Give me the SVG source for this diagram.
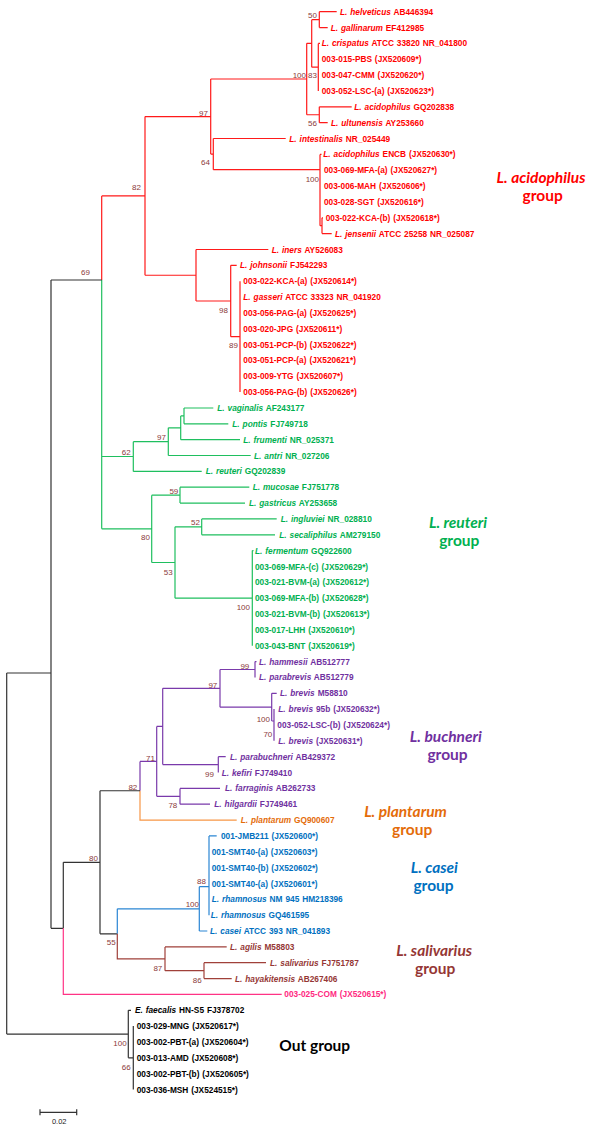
<svg xmlns="http://www.w3.org/2000/svg" width="600" height="1130" viewBox="0 0 600 1130">
<style>
.t{font-family:"Liberation Sans",Arial,sans-serif;font-size:8.3px;font-weight:bold;word-spacing:0.6px}
.i{font-style:italic}
.b{font-family:"Liberation Sans",Arial,sans-serif;font-size:8px;fill:#8b3a3a;text-anchor:end}
.g{font-family:Lato,"Open Sans",sans-serif;font-size:15.5px;font-weight:bold;text-anchor:middle}
.ln{fill:none;stroke-width:1.2}
.red{fill:#ff0000}.grn{fill:#00b050}.pur{fill:#7030a0}.org{fill:#e46c0a}.blu{fill:#0070c0}.brn{fill:#953735}.pnk{fill:#ff2a7f}.blk{fill:#000}
</style>
<rect width="600" height="1130" fill="#fff"/>
<g id="connectors">
<path class="ln" stroke="#ff1a1a" d="M319.3 11.7V27.6M319.3 11.7H336.7M319.3 27.6H327.7M311.7 19.65V67.2M311.7 19.65H319.3M311.7 67.2H318.3M318.3 43.4V91M318.3 43.4H320M319.3 106.8V122.7M319.3 106.8H351.7M319.3 122.7H327.7M306.7 43.3V114.75M306.7 43.3H311.7M306.7 114.75H319.3M210.7 79V154.1M210.7 79H306.7M210.7 154.1H213.3M213.3 138.5V169.7M213.3 138.5H285.7M213.3 169.7H320M320 154.4V225.7M320 154.4H321.5M320 225.7H322M322 217.8V233.6M322 233.6H331.7M322 217.8H323M145 116.55V275.25M145 116.55H210.7M145 275.25H196M196 249.5V301M196 249.5H268.3M196 301H230.7M230.7 265.3V336.65M230.7 265.3H236.7M230.7 336.65H240M240 281.2V392.1M101.7 195.9V280M101.7 195.9H145"/>
<path class="ln" stroke="#1fbf5f" d="M101.7 280V528.8M101.7 456.5H133.3M101.7 528.8H151.7M133.3 441.65V471.4M133.3 441.65H168.3M133.3 471.4H201.7M168.3 427.8V455.5M168.3 427.8H180.7M168.3 455.5H250.7M180.7 415.9V439.7M180.7 415.9H184M180.7 439.7H240M184 408V423.8M184 408H213.3M184 423.8H228.3M151.7 495.15V562.5M151.7 495.15H180M151.7 562.5H175M180 487.2V503.1M180 487.2H249.3M180 503.1H245M175 526.85V598.15M175 526.85H201.7M175 598.15H252.3M201.7 518.9V534.8M201.7 518.9H276.7M201.7 534.8H275M252.3 550.6V645.7M252.3 550.6H253.5"/>
<path class="ln" stroke="#7a3aab" d="M140 761.4V790.75M156.7 726.45V796.3M140 761.4H156.7M156.7 726.45H162.7M156.7 796.3H180M162.7 688.3V764.6M162.7 688.3H220M162.7 764.6H218.3M220 669.5V707.15M220 669.5H255M220 707.15H271.7M255 661.6V677.4M255 661.6H256.5M271.7 693.3V721M271.7 693.3H276.7M271.7 721H274M274 709.1V740.8M218.3 756.7V772.5M218.3 756.7H225.7M180 788.4V804.2M180 788.4H220M180 804.2H210"/>
<path class="ln" stroke="#f79646" d="M140 790.75V820.1H236.7"/>
<path class="ln" stroke="#333" d="M100 790.75H140M100 790.75V933.8M63.3 862.3H100M100 933.8H117.3M63.3 862.3V928.35M51 280V928.35M51 928.35H63.3M51 280H101.7M6.7 673V1034.05M6.7 673H51M6.7 1034.05H128.3M128.3 1010.3V1057.8M128.3 1010.3H131M128.3 1057.8H133.3M133.3 1026.1V1089.5M40 1112.3H76.7M40 1109.3V1115.3M76.7 1109.3V1115.3"/>
<path class="ln" stroke="#ff3385" d="M63.3 928.35V994.4H281.7"/>
<path class="ln" stroke="#2b86d4" d="M117.3 908.85V933.8M117.3 908.85H199.3M199.3 886.7V931M199.3 886.7H209M199.3 931H207.3M209 835.9V915.2M209 835.9H216.7"/>
<path class="ln" stroke="#a0403a" d="M117.3 933.8V958.8H165M165 946.9V970.65M165 946.9H226.7M165 970.65H204M204 962.7V978.6M204 962.7H266M204 978.6H231.7"/>
</g>
<g id="leaves">
<g id="leaf-0"><text class="t red" x="340" y="14.7"><tspan class="i">L. helveticus</tspan> AB446394</text></g>
<g id="leaf-1"><text class="t red" x="330.7" y="30.6"><tspan class="i">L. gallinarum</tspan> EF412985</text></g>
<g id="leaf-2"><text class="t red" x="321.7" y="46.4"><tspan class="i">L. crispatus</tspan> ATCC 33820 NR_041800</text></g>
<g id="leaf-3"><text class="t red" x="321.7" y="62.3">003-015-PBS (JX520609*)</text></g>
<g id="leaf-4"><text class="t red" x="321.7" y="78.1">003-047-CMM (JX520620*)</text></g>
<g id="leaf-5"><text class="t red" x="321.7" y="94">003-052-LSC-(a) (JX520623*)</text></g>
<g id="leaf-6"><text class="t red" x="354.3" y="109.8"><tspan class="i">L. acidophilus</tspan> GQ202838</text></g>
<g id="leaf-7"><text class="t red" x="331" y="125.7"><tspan class="i">L. ultunensis</tspan> AY253660</text></g>
<g id="leaf-8"><text class="t red" x="289.3" y="141.5"><tspan class="i">L. intestinalis</tspan> NR_025449</text></g>
<g id="leaf-9"><text class="t red" x="323.3" y="157.4"><tspan class="i">L. acidophilus</tspan> ENCB (JX520630*)</text></g>
<g id="leaf-10"><text class="t red" x="324" y="173.2">003-069-MFA-(a) (JX520627*)</text></g>
<g id="leaf-11"><text class="t red" x="324" y="189.1">003-006-MAH (JX520606*)</text></g>
<g id="leaf-12"><text class="t red" x="324" y="204.9">003-028-SGT (JX520616*)</text></g>
<g id="leaf-13"><text class="t red" x="325.7" y="220.8">003-022-KCA-(b) (JX520618*)</text></g>
<g id="leaf-14"><text class="t red" x="335" y="236.6"><tspan class="i">L. jensenii</tspan> ATCC 25258 NR_025087</text></g>
<g id="leaf-15"><text class="t red" x="271.7" y="252.5"><tspan class="i">L. iners</tspan> AY526083</text></g>
<g id="leaf-16"><text class="t red" x="240" y="268.3"><tspan class="i">L. johnsonii</tspan> FJ542293</text></g>
<g id="leaf-17"><text class="t red" x="243.3" y="284.2">003-022-KCA-(a) (JX520614*)</text></g>
<g id="leaf-18"><text class="t red" x="243.3" y="300"><tspan class="i">L. gasseri</tspan> ATCC 33323 NR_041920</text></g>
<g id="leaf-19"><text class="t red" x="243.3" y="315.9">003-056-PAG-(a) (JX520625*)</text></g>
<g id="leaf-20"><text class="t red" x="243.3" y="331.7">003-020-JPG (JX520611*)</text></g>
<g id="leaf-21"><text class="t red" x="243.3" y="347.6">003-051-PCP-(b) (JX520622*)</text></g>
<g id="leaf-22"><text class="t red" x="243.3" y="363.4">003-051-PCP-(a) (JX520621*)</text></g>
<g id="leaf-23"><text class="t red" x="243.3" y="379.3">003-009-YTG (JX520607*)</text></g>
<g id="leaf-24"><text class="t red" x="243.3" y="395.1">003-056-PAG-(b) (JX520626*)</text></g>
<g id="leaf-25"><text class="t grn" x="217.3" y="411"><tspan class="i">L. vaginalis</tspan> AF243177</text></g>
<g id="leaf-26"><text class="t grn" x="232.3" y="426.8"><tspan class="i">L. pontis</tspan> FJ749718</text></g>
<g id="leaf-27"><text class="t grn" x="243.3" y="442.7"><tspan class="i">L. frumenti</tspan> NR_025371</text></g>
<g id="leaf-28"><text class="t grn" x="254" y="458.5"><tspan class="i">L. antri</tspan> NR_027206</text></g>
<g id="leaf-29"><text class="t grn" x="205.7" y="474.4"><tspan class="i">L. reuteri</tspan> GQ202839</text></g>
<g id="leaf-30"><text class="t grn" x="252.7" y="490.2"><tspan class="i">L. mucosae</tspan> FJ751778</text></g>
<g id="leaf-31"><text class="t grn" x="249" y="506.1"><tspan class="i">L. gastricus</tspan> AY253658</text></g>
<g id="leaf-32"><text class="t grn" x="280.7" y="521.9"><tspan class="i">L. ingluviei</tspan> NR_028810</text></g>
<g id="leaf-33"><text class="t grn" x="279.3" y="537.8"><tspan class="i">L. secaliphilus</tspan> AM279150</text></g>
<g id="leaf-34"><text class="t grn" x="255" y="553.6"><tspan class="i">L. fermentum</tspan> GQ922600</text></g>
<g id="leaf-35"><text class="t grn" x="255" y="569.5">003-069-MFA-(c) (JX520629*)</text></g>
<g id="leaf-36"><text class="t grn" x="255" y="585.3">003-021-BVM-(a) (JX520612*)</text></g>
<g id="leaf-37"><text class="t grn" x="255" y="601.2">003-069-MFA-(b) (JX520628*)</text></g>
<g id="leaf-38"><text class="t grn" x="255" y="617">003-021-BVM-(b) (JX520613*)</text></g>
<g id="leaf-39"><text class="t grn" x="255" y="632.9">003-017-LHH (JX520610*)</text></g>
<g id="leaf-40"><text class="t grn" x="255" y="648.7">003-043-BNT (JX520619*)</text></g>
<g id="leaf-41"><text class="t pur" x="259" y="664.6"><tspan class="i">L. hammesii</tspan> AB512777</text></g>
<g id="leaf-42"><text class="t pur" x="259" y="680.4"><tspan class="i">L. parabrevis</tspan> AB512779</text></g>
<g id="leaf-43"><text class="t pur" x="280" y="696.3"><tspan class="i">L. brevis</tspan> M58810</text></g>
<g id="leaf-44"><text class="t pur" x="278.3" y="712.1"><tspan class="i">L. brevis</tspan> 95b (JX520632*)</text></g>
<g id="leaf-45"><text class="t pur" x="277.3" y="728">003-052-LSC-(b) (JX520624*)</text></g>
<g id="leaf-46"><text class="t pur" x="278.3" y="743.8"><tspan class="i">L. brevis</tspan> (JX520631*)</text></g>
<g id="leaf-47"><text class="t pur" x="230" y="759.7"><tspan class="i">L. parabuchneri</tspan> AB429372</text></g>
<g id="leaf-48"><text class="t pur" x="221.7" y="775.5"><tspan class="i">L. kefiri</tspan> FJ749410</text></g>
<g id="leaf-49"><text class="t pur" x="225" y="791.4"><tspan class="i">L. farraginis</tspan> AB262733</text></g>
<g id="leaf-50"><text class="t pur" x="214.3" y="807.2"><tspan class="i">L. hilgardii</tspan> FJ749461</text></g>
<g id="leaf-51"><text class="t org" x="240.7" y="823.1"><tspan class="i">L. plantarum</tspan> GQ900607</text></g>
<g id="leaf-52"><text class="t blu" x="221" y="838.9">001-JMB211 (JX520600*)</text></g>
<g id="leaf-53"><text class="t blu" x="211.7" y="854.8">001-SMT40-(a) (JX520603*)</text></g>
<g id="leaf-54"><text class="t blu" x="211.7" y="870.6">001-SMT40-(b) (JX520602*)</text></g>
<g id="leaf-55"><text class="t blu" x="211.7" y="886.5">001-SMT40-(a) (JX520601*)</text></g>
<g id="leaf-56"><text class="t blu" x="211.7" y="902.3"><tspan class="i">L. rhamnosus</tspan> NM 945 HM218396</text></g>
<g id="leaf-57"><text class="t blu" x="210.7" y="918.2"><tspan class="i">L. rhamnosus</tspan> GQ461595</text></g>
<g id="leaf-58"><text class="t blu" x="210" y="934"><tspan class="i">L. casei</tspan> ATCC 393 NR_041893</text></g>
<g id="leaf-59"><text class="t brn" x="230" y="949.9"><tspan class="i">L. agilis</tspan> M58803</text></g>
<g id="leaf-60"><text class="t brn" x="270" y="965.7"><tspan class="i">L. salivarius</tspan> FJ751787</text></g>
<g id="leaf-61"><text class="t brn" x="235" y="981.6"><tspan class="i">L. hayakitensis</tspan> AB267406</text></g>
<g id="leaf-62"><text class="t pnk" x="284.3" y="997.4">003-025-COM (JX520615*)</text></g>
<g id="leaf-63"><text class="t blk" x="135" y="1013.3"><tspan class="i">E. faecalis</tspan> HN-S5 FJ378702</text></g>
<g id="leaf-64"><text class="t blk" x="136.7" y="1029.1">003-029-MNG (JX520617*)</text></g>
<g id="leaf-65"><text class="t blk" x="136.7" y="1045">003-002-PBT-(a) (JX520604*)</text></g>
<g id="leaf-66"><text class="t blk" x="136.7" y="1060.8">003-013-AMD (JX520608*)</text></g>
<g id="leaf-67"><text class="t blk" x="136.7" y="1076.7">003-002-PBT-(b) (JX520605*)</text></g>
<g id="leaf-68"><text class="t blk" x="136.7" y="1092.5">003-036-MSH (JX524515*)</text></g>
</g>
<g id="bootstrap">
<text class="b" x="317" y="17.9">50</text>
<text class="b" x="306" y="77.9">100</text>
<text class="b" x="317" y="77.9">83</text>
<text class="b" x="317" y="125.6">56</text>
<text class="b" x="208" y="115.6">97</text>
<text class="b" x="210" y="164.6">64</text>
<text class="b" x="319" y="181.9">100</text>
<text class="b" x="141" y="189.9">82</text>
<text class="b" x="90" y="274.9">69</text>
<text class="b" x="228" y="312.9">98</text>
<text class="b" x="238" y="347.9">89</text>
<text class="b" x="166" y="439.6">97</text>
<text class="b" x="130.7" y="454.6">62</text>
<text class="b" x="178.3" y="493.6">59</text>
<text class="b" x="200" y="525.2">52</text>
<text class="b" x="150" y="539.6">80</text>
<text class="b" x="172.7" y="574.6">53</text>
<text class="b" x="250" y="609.6">100</text>
<text class="b" x="249.3" y="668.9">99</text>
<text class="b" x="217.3" y="687.9">97</text>
<text class="b" x="270" y="722.2">100</text>
<text class="b" x="272.3" y="736.9">70</text>
<text class="b" x="155" y="760.6">71</text>
<text class="b" x="214" y="777.2">99</text>
<text class="b" x="137.3" y="789.6">82</text>
<text class="b" x="177.3" y="807.9">78</text>
<text class="b" x="98" y="861.2">80</text>
<text class="b" x="206" y="883.6">88</text>
<text class="b" x="199" y="906.9">100</text>
<text class="b" x="115.7" y="944.6">55</text>
<text class="b" x="162.3" y="970.6">87</text>
<text class="b" x="201.7" y="982.9">86</text>
<text class="b" x="126.7" y="1046.2">100</text>
<text class="b" x="130.7" y="1069.6">66</text>
</g>
<g id="group-acidophilus"><text class="g" x="541" y="183.2" fill="#ff0000"><tspan font-style="italic">L. acidophilus</tspan></text><text class="g" x="542.7" y="200.8" fill="#ff0000">group</text></g>
<g id="group-reuteri"><text class="g" x="458" y="528.2" fill="#00b050"><tspan font-style="italic">L. reuteri</tspan></text><text class="g" x="459.3" y="545.8" fill="#00b050">group</text></g>
<g id="group-buchneri"><text class="g" x="445.8" y="742.2" fill="#7030a0"><tspan font-style="italic">L. buchneri</tspan></text><text class="g" x="447.5" y="759.8" fill="#7030a0">group</text></g>
<g id="group-plantarum"><text class="g" x="405.5" y="816.5" fill="#e46c0a"><tspan font-style="italic">L. plantarum</tspan></text><text class="g" x="412.2" y="834.8" fill="#e46c0a">group</text></g>
<g id="group-casei"><text class="g" x="434.3" y="873.2" fill="#0070c0"><tspan font-style="italic">L. casei</tspan></text><text class="g" x="433.5" y="890.8" fill="#0070c0">group</text></g>
<g id="group-salivarius"><text class="g" x="434.2" y="955.5" fill="#953735"><tspan font-style="italic">L. salivarius</tspan></text><text class="g" x="435.2" y="973.5" fill="#953735">group</text></g>
<g id="group-out"><text class="g" x="314.7" y="1050.8" fill="#000" font-size="16">Out group</text></g>
<g id="scale"><text x="59.2" y="1123.6" font-family="Liberation Sans, Arial, sans-serif" font-size="7.5" text-anchor="middle" fill="#222">0.02</text></g>
</svg>
